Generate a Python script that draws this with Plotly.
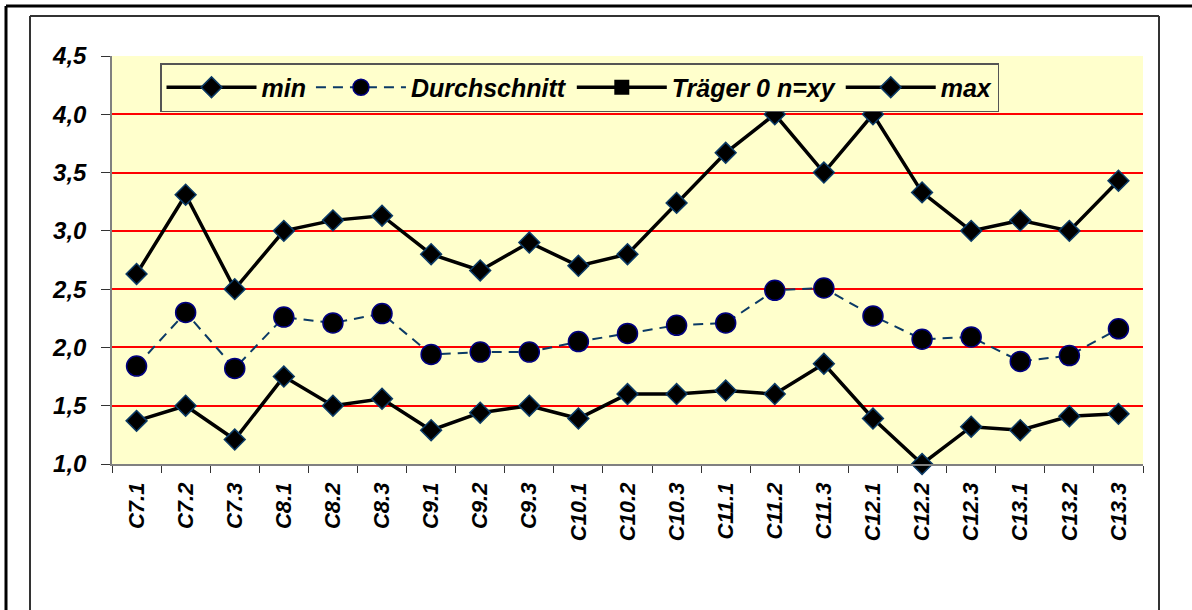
import plotly.graph_objects as go

categories = ["C7.1", "C7.2", "C7.3", "C8.1", "C8.2", "C8.3", "C9.1", "C9.2", "C9.3",
              "C10.1", "C10.2", "C10.3", "C11.1", "C11.2", "C11.3", "C12.1", "C12.2",
              "C12.3", "C13.1", "C13.2", "C13.3"]
min_values = [1.37, 1.50, 1.21, 1.75, 1.50, 1.56, 1.29, 1.44, 1.50, 1.39, 1.60, 1.60,
              1.63, 1.60, 1.86, 1.39, 1.00, 1.32, 1.29, 1.41, 1.43]
avg_values = [1.84, 2.30, 1.82, 2.26, 2.21, 2.29, 1.94, 1.96, 1.96, 2.05, 2.12, 2.19,
              2.21, 2.49, 2.51, 2.27, 2.07, 2.09, 1.88, 1.93, 2.16]
# "Träger 0 n=xy" has no visible points in the chart (legend entry only)
traeger_values = [None, None, None, None, None, None, None, None, None, None, None,
                  None, None, None, None, None, None, None, None, None, None]
max_values = [2.63, 3.31, 2.50, 3.00, 3.09, 3.13, 2.80, 2.66, 2.90, 2.70, 2.80, 3.24,
              3.67, 4.00, 3.50, 4.00, 3.33, 3.00, 3.09, 3.00, 3.43]
y_ticks = [1.0, 1.5, 2.0, 2.5, 3.0, 3.5, 4.0, 4.5]

FONT = "Liberation Sans, Arial, sans-serif"

fig = go.Figure()
fig.add_trace(go.Scatter(
    x=categories, y=min_values, name="min", mode="lines+markers",
    line=dict(color="black", width=3.5),
    marker=dict(symbol="diamond", size=16, color="black",
                line=dict(color="#0B3A66", width=1.5)),
    cliponaxis=False,
))
fig.add_trace(go.Scatter(
    x=categories, y=avg_values, name="Durchschnitt", mode="lines+markers",
    line=dict(color="#0B3A66", width=2, dash="10px,7px"),
    marker=dict(symbol="circle", size=20, color="black",
                line=dict(color="#000080", width=1.5)),
))
fig.add_trace(go.Scatter(
    x=categories, y=traeger_values, name="Träger 0 n=xy", mode="lines+markers",
    line=dict(color="black", width=3.5),
    marker=dict(symbol="square", size=15, color="black"),
    showlegend=True,
))
fig.add_trace(go.Scatter(
    x=categories, y=max_values, name="max", mode="lines+markers",
    line=dict(color="black", width=3.5),
    marker=dict(symbol="diamond", size=16, color="black",
                line=dict(color="#0B3A66", width=1.5)),
    cliponaxis=False,
))

L, R, T, B = 112, 1143, 56, 464
W, H = 1192, 610


def px(x):
    return (x - L) / (R - L)


def py(y):
    return (B - y) / (B - T)


shapes = [
    # outer thick frame
    dict(type="line", xref="paper", yref="paper", x0=px(6), x1=px(1195), y0=py(6), y1=py(6),
         line=dict(color="black", width=3)),
    dict(type="line", xref="paper", yref="paper", x0=px(6), x1=px(6), y0=py(6), y1=py(615),
         line=dict(color="black", width=3)),
    # inner frame
    dict(type="line", xref="paper", yref="paper", x0=px(30), x1=px(1159), y0=py(16), y1=py(16),
         line=dict(color="#333333", width=2)),
    dict(type="line", xref="paper", yref="paper", x0=px(30), x1=px(30), y0=py(16), y1=py(615),
         line=dict(color="#333333", width=2)),
    dict(type="line", xref="paper", yref="paper", x0=px(1159), x1=px(1159), y0=py(16), y1=py(615),
         line=dict(color="#333333", width=2)),
]

fig.update_layout(
    width=W, height=H,
    margin=dict(l=L, r=W - R, t=T, b=H - B),
    paper_bgcolor="white",
    plot_bgcolor="#FFFFCC",
    separators=",.",
    shapes=shapes,
    showlegend=True,
    legend=dict(
        orientation="h", x=px(160), y=py(63), xanchor="left", yanchor="top",
        bgcolor="#FFFFCC", bordercolor="#555555", borderwidth=1.5,
        font=dict(family=FONT, size=25, color="black", weight="bold", style="italic"),
        itemwidth=90, traceorder="normal",
    ),
    xaxis=dict(
        type="category", categoryorder="array", categoryarray=categories,
        showgrid=False, showline=True, linecolor="#808080", linewidth=1.5,
        ticks="outside", ticklen=7, tickcolor="#333333", tickson="boundaries",
        tickangle=-90, ticklabelstandoff=8,
        tickfont=dict(family=FONT, size=22, color="black", weight="bold", style="italic"),
        range=[-0.5, len(categories) - 0.5],
    ),
    yaxis=dict(
        range=[1.0, 4.5], tickvals=y_ticks, tickformat=".1f",
        showgrid=True, gridcolor="#FF0000", gridwidth=2,
        showline=True, linecolor="#808080", linewidth=1.5,
        ticks="outside", ticklen=9, tickcolor="#333333", ticklabelstandoff=10,
        tickfont=dict(family=FONT, size=24, color="black", weight="bold", style="italic"),
        zeroline=False,
    ),
)

fig.write_html(
    "out.html",
    config={"displayModeBar": False},
    post_script="document.body.style.margin='0';document.body.style.overflow='hidden';",
)
